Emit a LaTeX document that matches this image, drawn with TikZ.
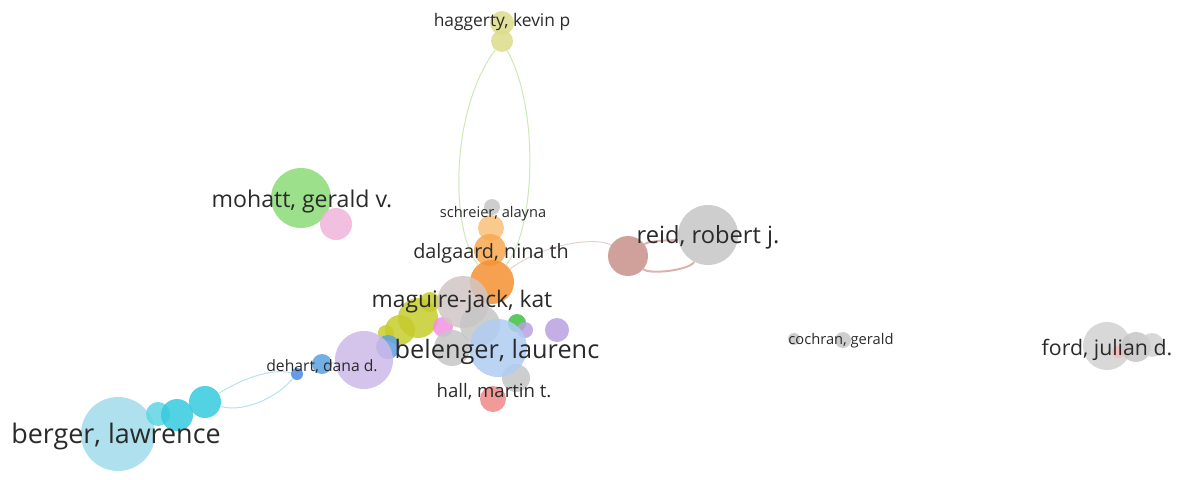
\documentclass[tikz,border=0pt]{standalone}
\usepackage{fontspec}
\setmainfont{Open Sans}
\usepackage{xcolor}
\usetikzlibrary{positioning, backgrounds}

% cluster colours
\definecolor{hagyellow}{HTML}{DCDC8A}
\definecolor{hagline}{HTML}{C4E4A8}
\definecolor{mohgreen}{HTML}{8CDA78}
\definecolor{mohpink}{HTML}{F0B4DC}
\definecolor{reidgray}{HTML}{C6C6C6}
\definecolor{reidbrown}{HTML}{C8908A}
\definecolor{orlight}{HTML}{F8C07A}
\definecolor{ormid}{HTML}{F7A850}
\definecolor{ordark}{HTML}{F59030}
\definecolor{olive}{HTML}{C6CC2C}
\definecolor{lavender}{HTML}{CDB8E8}
\definecolor{belblue}{HTML}{B0CDF2}
\definecolor{dotblue}{HTML}{5AA0E0}
\definecolor{cyanlight}{HTML}{A0DCEA}
\definecolor{cyanline}{HTML}{A8DCEE}
\definecolor{cyandark}{HTML}{34CADE}
\definecolor{hallred}{HTML}{F08888}
\definecolor{kgreen}{HTML}{40C040}
\definecolor{kpurple}{HTML}{B8A0E0}
\definecolor{labelgray}{HTML}{2A2A2A}

\begin{document}
\begin{tikzpicture}[x=1pt, y=-1pt]
    % Define styles for bubbles, labels and links
    \tikzstyle{bubble} = [circle, inner sep=0pt, fill opacity=0.85, draw=none]
    \tikzstyle{lbl} = [anchor=base, inner sep=0pt, text=labelgray, font=\fontsize{#1}{#1}\selectfont]
    \tikzstyle{link} = [draw=#1, line width=1pt, opacity=0.85]

    \useasboundingbox (0,0) rectangle (1180,479);

    % Bubbles: haggerty and mohatt
    \node [bubble, fill=hagyellow, minimum size=24] (hagA) at (502,23) {};
    \node [bubble, fill=hagyellow, minimum size=22] (hagB) at (502,41) {};
    \node [bubble, fill=mohgreen, minimum size=60] (moh) at (301,198) {};
    \node [bubble, fill=mohpink, minimum size=32] (mohP) at (336,224) {};

    % Bubbles: reid
    \node [bubble, fill=reidbrown, minimum size=40] (reidB) at (628,256) {};
    \node [bubble, fill=reidgray, minimum size=60] (reid) at (708,235) {};

    % Bubbles: central cluster
    \node [bubble, fill=reidgray, minimum size=16] (sch) at (492,207) {};
    \node [bubble, fill=orlight, minimum size=26] (orA) at (491,228) {};
    \node [bubble, fill=ormid, minimum size=32] (orB) at (490,250) {};
    \node [bubble, fill=ordark, minimum size=44] (orC) at (492,282) {};
    \node [bubble, fill=olive, minimum size=20] (olA) at (430,302) {};
    \node [bubble, fill=olive, minimum size=40] (olB) at (418,318) {};
    \node [bubble, fill=olive, minimum size=30] (olC) at (400,330) {};
    \node [bubble, fill=olive, minimum size=16] (olD) at (386,333) {};
    \node [bubble, fill=mohpink!80!magenta, minimum size=20] (pnk) at (443,327) {};
    \node [bubble, fill=reidgray!80!pink, minimum size=52] (magu) at (463,302) {};
    \node [bubble, fill=dotblue, minimum size=24] (blu) at (388,347) {};
    \node [bubble, fill=lavender, minimum size=58] (lav) at (364,360) {};
    \node [bubble, fill=kgreen, minimum size=18] (kgr) at (517,323) {};
    \node [bubble, fill=kpurple, minimum size=16] (kpA) at (525,330) {};
    \node [bubble, fill=kpurple, minimum size=24] (kpB) at (557,330) {};
    \node [bubble, fill=reidgray, minimum size=40] (grA) at (480,325) {};
    \node [bubble, fill=reidgray, minimum size=36] (grB) at (452,348) {};
    \node [bubble, fill=hallred, minimum size=26] (hall) at (493,399) {};
    \node [bubble, fill=reidgray, minimum size=28] (grC) at (516,378) {};
    \node [bubble, fill=belblue, minimum size=58] (bel) at (498,348) {};

    % Bubbles: dehart and berger
    \node [bubble, fill=dotblue!85!blue, minimum size=12] (dehA) at (297,374) {};
    \node [bubble, fill=dotblue, minimum size=20] (dehB) at (322,364) {};
    \node [bubble, fill=cyanlight, minimum size=74] (berg) at (118,434) {};
    \node [bubble, fill=cyandark!80!white, minimum size=24] (bergA) at (158,414) {};
    \node [bubble, fill=cyandark, minimum size=32] (bergB) at (177,415) {};
    \node [bubble, fill=cyandark, minimum size=32] (bergC) at (205,402) {};

    % Bubbles: cochran and ford
    \node [bubble, fill=reidgray, minimum size=12] (cocA) at (794,339) {};
    \node [bubble, fill=reidgray, minimum size=16] (cocB) at (843,340) {};
    \node [bubble, fill=reidgray!80!white, minimum size=48] (ford) at (1107,346) {};
    \node [bubble, fill=reidgray, minimum size=30] (fordA) at (1136,347) {};
    \node [bubble, fill=reidgray!80!white, minimum size=24] (fordB) at (1152,345) {};
    \node [bubble, fill=hallred!60!white, minimum size=12] (fordP) at (1118,352) {};

    % Links behind the bubbles
    \begin{pgfonlayer}{background}
    \draw [link=hagline] (hagB) .. controls (450,110) and (450,230) .. (orC);
    \draw [link=hagline] (hagB) .. controls (540,110) and (535,230) .. (orC);
    \draw [link=reidbrown!50] (orC) .. controls (550,240) and (600,238) .. (reidB);
    \draw [link=reidbrown!80, line width=2pt] (reidB) .. controls (650,240) and (680,240) .. (reid);
    \draw [link=reidbrown!80, line width=2pt] (reidB) .. controls (650,275) and (690,270) .. (reid);
    \draw [link=cyanline] (bergC) .. controls (240,380) and (270,368) .. (dehA);
    \draw [link=cyanline] (bergC) .. controls (240,412) and (272,402) .. (dehA);
    \draw [link=dotblue!50] (dehB) -- (lav);
    \end{pgfonlayer}

    % Labels
    \node [lbl=17.4] (haglabel) at (502,27) {haggerty, kevin p};
    \node [lbl=23.1] (mohlabel) at (302,207) {mohatt, gerald v.};
    \node [lbl=14.6] (schlabel) at (493,217) {schreier, alayna};
    \node [lbl=23.7] (reidlabel) at (708,243) {reid, robert j.};
    \node [lbl=19.8] (dallabel) at (491,258) {dalgaard, nina th};
    \node [lbl=22.8] (maglabel) at (462,307) {maguire-jack, kat};
    \node [lbl=25.3] (bellabel) at (497,358) {belenger, laurenc};
    \node [lbl=15.7] (dehlabel) at (322,371) {dehart, dana d.};
    \node [lbl=18.6] (halllabel) at (494,397) {hall, martin t.};
    \node [lbl=26.9] (berglabel) at (116,443) {berger, lawrence};
    \node [lbl=14.7] (coclabel) at (841,344) {cochran, gerald};
    \node [lbl=21.3] (fordlabel) at (1107,355) {ford, julian d.};
\end{tikzpicture}
\end{document}
